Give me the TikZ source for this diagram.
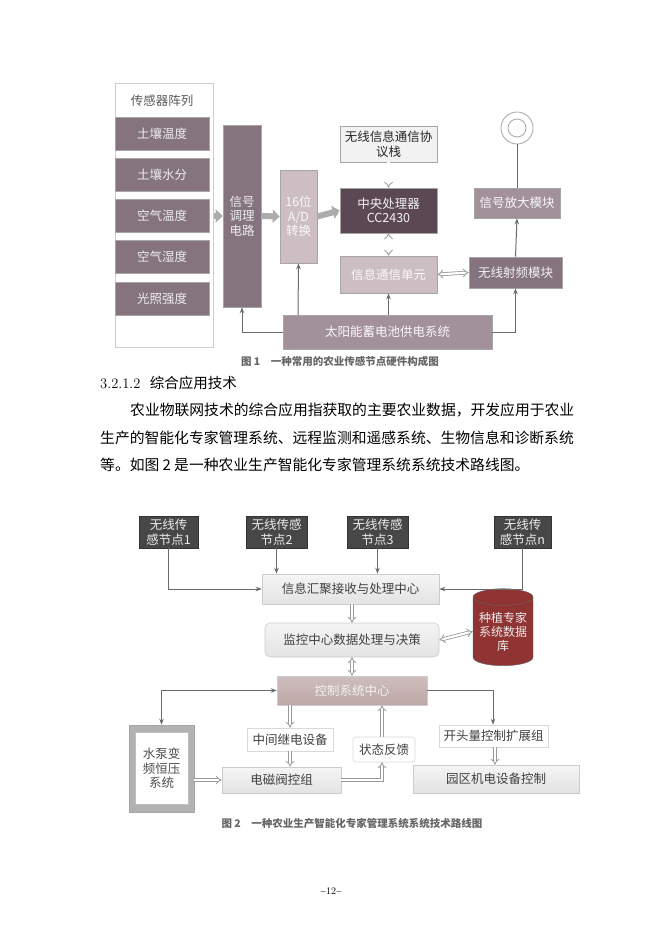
\documentclass[tikz,border=0pt]{standalone}
\usepackage{fontspec}
\newfontfamily\cjk{Noto Sans CJK SC}
\usetikzlibrary{arrows.meta,shapes.geometric}
\definecolor{dk}{HTML}{85747E}
\definecolor{cpu}{HTML}{5C4852}
\definecolor{lt}{HTML}{CDBEC4}
\definecolor{md}{HTML}{A2909A}
\definecolor{ln}{HTML}{6A6A6A}
\tikzset{
 bx/.style={draw=gray!70,line width=0.6pt,inner sep=0pt,font=\cjk\fontsize{12.5}{14.5}\selectfont,align=center},
 blk/.style={line width=6pt,draw=gray!65,-{Triangle[width=13pt,length=7pt]}},
 dbl/.style={draw=gray!80,double=white,double distance=2.2pt,line width=0.8pt,-{Implies}},
 dbb/.style={draw=gray!80,double=white,double distance=2.2pt,line width=0.8pt,{Implies}-{Implies}},
 tarr/.style={draw=ln,line width=1pt,-{Stealth[length=6pt]}},
 captxt/.style={font=\cjk\bfseries\fontsize{10.5}{12}\selectfont,text=gray!80!black},
 body/.style={font=\cjk\fontsize{14.8}{17}\selectfont,anchor=west,inner sep=0pt}
}
\begin{document}
\begin{tikzpicture}[x=1pt,y=-1pt]
\useasboundingbox[fill=white] (0,0) rectangle (662,936);
% ---------- Figure 1
\node[bx,fill=white,draw=gray!40,minimum width=98pt,minimum height=264pt,anchor=north west] (arr) at (115,83) {};
\node[font=\cjk\fontsize{12.5}{14}\selectfont,text=gray!70!black] (arrt) at (162,101) {传感器阵列};
\foreach \n/\t/\y in {s1/土壤温度/133.5,s2/土壤水分/175,s3/空气温度/216,s4/空气湿度/257,s5/光照强度/298.5}
  \node[bx,fill=dk,text=white!85!gray,minimum width=94pt,minimum height=33pt] (\n) at (162,\y) {\t};
\node[bx,fill=dk,text=white!85!gray,minimum width=38pt,minimum height=182pt] (sig) at (242,216) {信号\\调理\\电路};
\node[bx,fill=lt,text=white!95!gray,minimum width=37pt,minimum height=93pt] (ad) at (298.5,216.5) {16位\\A/D\\转换};
\node[bx,fill=gray!10,text=gray!30!black,minimum width=97pt,minimum height=36pt] (pro) at (388.5,144) {无线信息通信协\\议栈};
\node[bx,fill=cpu,text=white!90!gray,minimum width=97pt,minimum height=45pt] (cpu) at (388.5,210.5) {中央处理器\\CC2430};
\node[bx,fill=lt,text=white!95!gray,minimum width=97pt,minimum height=37pt] (icu) at (388.5,274.5) {信息通信单元};
\node[bx,fill=dk,text=white!90!gray,minimum width=93pt,minimum height=31pt] (rf) at (515.5,272.5) {无线射频模块};
\node[bx,fill=md,text=white!95!gray,minimum width=86pt,minimum height=30pt] (amp) at (517,203) {信号放大模块};
\node[bx,fill=md,text=white!95!gray,minimum width=209pt,minimum height=34pt] (sol) at (387.5,332) {太阳能蓄电池供电系统};
\node[circle,draw=gray!70,line width=0.8pt,minimum size=32pt,inner sep=0pt] (ant) at (517,128) {};
\node[circle,draw=gray!70,line width=0.8pt,minimum size=18pt,inner sep=0pt] (anti) at (517,128) {};
\draw[blk] (arr.east |- sig) -- (sig.west);
\draw[blk] (sig.east) -- (ad.west);
\draw[blk] (ad.east) -- (cpu.west);
\draw[dbl] (pro.south) -- (cpu.north);
\draw[dbb] (cpu.south) -- (icu.north);
\draw[dbb] (icu.east) -- (rf.west);
\draw[tarr] (rf.north) -- (amp.south);
\draw[draw=ln,line width=1pt] (amp.north) -- (ant.south);
\draw[tarr] (sol.west |- 0,332) -| (sig.south);
\draw[tarr] (298,315) -- (ad.south);
\draw[tarr] (388.5,315) -- (icu.south);
\draw[tarr] (sol.east |- 0,332) -| (rf.south);
\node[captxt] (c1) at (340,361) {图 1\quad 一种常用的农业传感节点硬件构成图};
% ---------- text
\node[anchor=west,inner sep=0pt,font=\fontsize{14.5}{17}\selectfont] (h) at (100,383) {3.2.1.2\ \ {\cjk 综合应用技术}};
\node[body] (p1) at (130,410) {农业物联网技术的综合应用指获取的主要农业数据，开发应用于农业};
\node[body] (p2) at (100,437.5) {生产的智能化专家管理系统、远程监测和遥感系统、生物信息和诊断系统};
\node[body] (p3) at (100,465) {等。如图 2 是一种农业生产智能化专家管理系统系统技术路线图。};
% ---------- Figure 2
\tikzset{nd/.style={bx,fill=black!72,draw=black!80,text=white!85!gray,minimum height=32pt}}
\node[nd,minimum width=59pt] (n1) at (168.5,532) {无线传\\感节点1};
\node[nd,minimum width=61pt] (n2) at (276.5,532) {无线传感\\节点2};
\node[nd,minimum width=61pt] (n3) at (377.5,532) {无线传感\\节点3};
\node[nd,minimum width=57pt] (nn) at (522.5,532) {无线传\\感节点n};
\tikzset{lb/.style={bx,top color=gray!8,bottom color=gray!22,draw=gray!40,text=gray!50!black}}
\node[lb,minimum width=177pt,minimum height=30pt] (rec) at (350.5,589) {信息汇聚接收与处理中心};
\node[lb,rounded corners=5pt,minimum width=174pt,minimum height=34pt] (mon) at (352,640) {监控中心数据处理与决策};
\node[cylinder,shape border rotate=90,aspect=0.35,draw=black!60,fill=red!45!black!80,text=white!85!gray,minimum width=60pt,minimum height=77pt,inner sep=0pt,font=\cjk\fontsize{12}{14}\selectfont,align=center] (db) at (503,631.5) {种植专家\\系统数据\\库};
\node[bx,top color=red!15!gray!45,bottom color=red!15!gray!60,draw=gray!40,text=white!90!gray,minimum width=150pt,minimum height=29pt] (ctl) at (352,690.5) {控制系统中心};
\node[bx,fill=gray!60,draw=gray!70,minimum width=65pt,minimum height=87pt] (pumpo) at (161.5,768.5) {};
\node[bx,fill=white,draw=gray!50,text=gray!60!black,minimum width=53pt,minimum height=72pt] (pump) at (161.5,768.5) {水泵变\\频恒压\\系统};
\tikzset{wb/.style={bx,fill=white,draw=gray!30,text=gray!50!black}}
\node[wb,minimum width=86pt,minimum height=23pt] (rel) at (290,739.5) {中间继电设备};
\node[wb,rounded corners=3pt,minimum width=62pt,minimum height=25pt] (fb) at (384,749.5) {状态反馈};
\node[wb,minimum width=109pt,minimum height=22pt] (sw) at (493.5,736) {开头量控制扩展组};
\node[lb,minimum width=119pt,minimum height=26pt] (valve) at (281.5,780) {电磁阀控组};
\node[lb,minimum width=166pt,minimum height=28pt] (park) at (496,779) {园区机电设备控制};
\draw[tarr] (n1.south) |- (rec.west);
\draw[tarr] (n2.south) -- (rec.north -| n2);
\draw[tarr] (n3.south) -- (rec.north -| n3);
\draw[tarr] (nn.south) |- (rec.east);
\draw[dbl] (rec.south -| mon) -- (mon.north);
\draw[dbb] (mon.east) -- (db.west);
\draw[dbb] (mon.south) -- (ctl.north);
\draw[tarr,{Stealth[length=6pt]}-{Stealth[length=6pt]}] (ctl.west) -| (pumpo.north);
\draw[tarr] (ctl.east) -| (sw.north -| 493,0);
\draw[dbl] (ctl.south -| rel) -- (rel.north);
\draw[dbl] (rel.south) -- (valve.north -| rel);
\draw[dbl] (fb.north -| 382,0) -- (ctl.south -| 382,0);
\draw[dbl] (valve.east) -| (fb.south -| 382,0);
\draw[dbl] (sw.south -| 495,0) -- (park.north -| 495,0);
\draw[dbl] (pumpo.east |- valve) -- (valve.west);
\node[captxt] (c2) at (352,824) {图 2\quad 一种农业生产智能化专家管理系统系统技术路线图};
\node[font=\fontsize{10}{12}\selectfont] (pg) at (331,891) {\textasciitilde12\textasciitilde};
\end{tikzpicture}
\end{document}
